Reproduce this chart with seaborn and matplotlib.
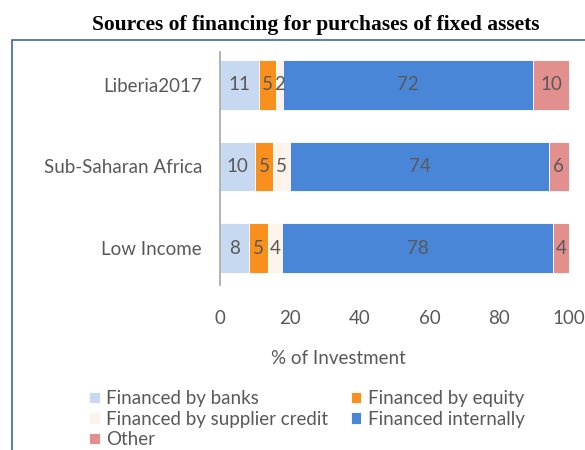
import numpy as np
import pandas as pd
import matplotlib
matplotlib.use("Agg")
import matplotlib.pyplot as plt
import seaborn as sns
from matplotlib.patches import Rectangle

# data
regions = ["Liberia2017", "Sub-Saharan Africa", "Low Income"]
series = ["Financed by banks", "Financed by equity", "Financed by supplier credit",
          "Financed internally", "Other"]
banks = [11.2, 10.0, 8.4]
equity = [4.9, 5.2, 5.3]
supplier = [1.9, 5.0, 4.0]
internal = [71.7, 74.0, 77.8]
other = [10.3, 5.8, 4.4]
colors = ["#C6D9F1", "#F98F1D", "#FDF3EA", "#4A86D8", "#E28F8E"]

df = pd.DataFrame({s: v for s, v in zip(series, [banks, equity, supplier, internal, other])},
                  index=regions)

sns.set_theme(style="white")
plt.rcParams["font.family"] = ["Lato", "DejaVu Sans"]
fs = 13.5

fig = plt.figure(figsize=(5.85, 4.5), dpi=100)
ax = fig.add_axes([220 / 585, 1 - 285 / 450, 349 / 585, 233 / 450])

# stacked horizontal bars
left = np.zeros(len(regions))
ypos = np.arange(len(regions))
for s, c in zip(series, colors):
    vals = df[s].values
    bars = ax.barh(ypos, vals, left=left, height=0.61, color=c, label=s,
                   edgecolor="white", linewidth=0.6)
    ax.bar_label(bars, labels=[f"{v:.0f}" for v in vals], label_type="center",
                 color="#595959", fontsize=fs)
    left += vals

ax.set_xlim(0, 100)
ax.set_ylim(2.45, -0.4)
ax.set_yticks(ypos)
ax.set_yticklabels(regions)
ax.set_xticks(range(0, 101, 20))
ax.tick_params(axis="both", length=0, labelsize=fs, labelcolor="#595959")
ax.tick_params(axis="x", pad=18)
ax.tick_params(axis="y", pad=13)
for sp in ["top", "right", "bottom"]:
    ax.spines[sp].set_visible(False)
ax.spines["left"].set_color("#A6A6A6")
ax.spines["left"].set_linewidth(1.2)

ax.set_xlabel("% of Investment", fontsize=fs, color="#595959")
ax.xaxis.set_label_coords((338 - 220) / 349, -(350 - 285) / 233)

# legend filled row-wise
h, l = ax.get_legend_handles_labels()
order = [0, 2, 4, 1, 3]
fig.legend([h[i] for i in order], [l[i] for i in order], ncol=2, frameon=False,
           loc="upper left", bbox_to_anchor=(80 / 585, 1 - 381 / 450),
           fontsize=fs, labelcolor="#595959", handlelength=0.55, handleheight=0.55,
           handletextpad=0.35, columnspacing=1.2, labelspacing=0.18, borderpad=0)

# outer border box
fig.patches.append(Rectangle((12 / 585, -0.1), 1.2, 1 - 40 / 450 + 0.1,
                             transform=fig.transFigure, fill=False,
                             edgecolor="#3F63A8", linewidth=1.2))

fig.text(316 / 585, 1 - 25 / 450, "Sources of financing for purchases of fixed assets",
         ha="center", va="center", fontsize=15.5, fontweight="bold",
         family="Liberation Serif", color="black")

fig.savefig("out.png", dpi=100)
